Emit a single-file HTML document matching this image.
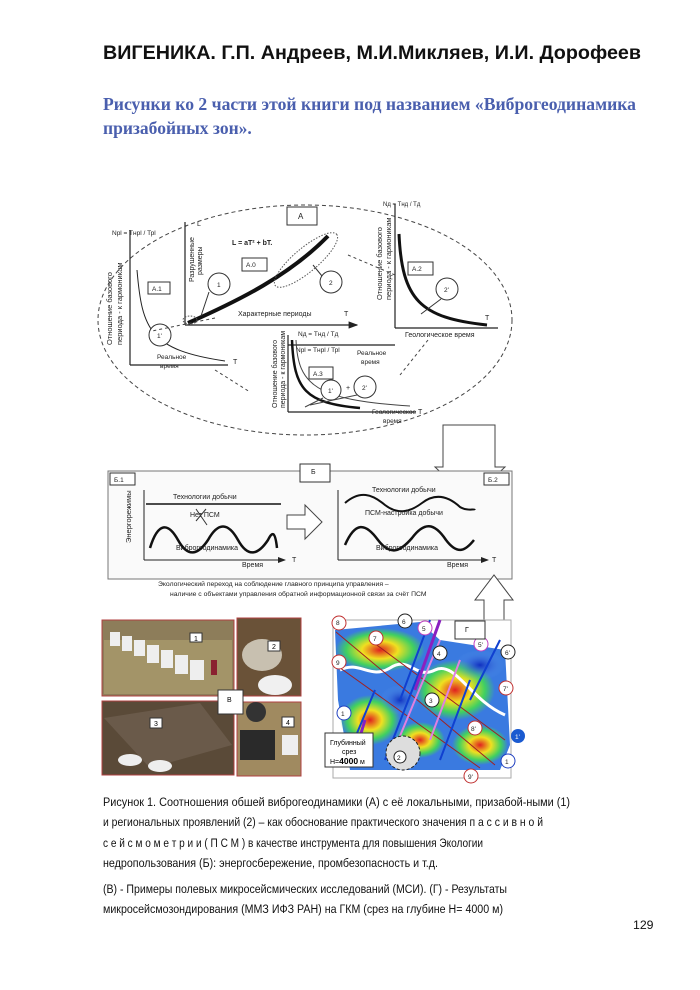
<!DOCTYPE html>
<html><head><meta charset="utf-8"><style>
html,body{margin:0;padding:0;background:#fff}
svg{display:block}
.s{font-family:"Liberation Sans","DejaVu Sans",sans-serif}
.c{font-family:"Liberation Sans","DejaVu Sans",sans-serif;font-size:12.3px;fill:#111}
</style></head><body>
<svg width="700" height="990" viewBox="0 0 700 990" xmlns="http://www.w3.org/2000/svg">
<defs>
<marker id="ar" markerWidth="8" markerHeight="8" refX="7" refY="4" orient="auto"><path d="M0,1 L8,4 L0,7 Z" fill="#222"/></marker>
<radialGradient id="hot" cx="50%" cy="50%" r="50%"><stop offset="0" stop-color="#e02020"/><stop offset=".4" stop-color="#f0e020"/><stop offset=".75" stop-color="#40d060"/><stop offset="1" stop-color="#40d060" stop-opacity="0"/></radialGradient>
<radialGradient id="cold" cx="50%" cy="50%" r="50%"><stop offset="0" stop-color="#1030c0"/><stop offset="1" stop-color="#60a0f0" stop-opacity="0"/></radialGradient>
</defs>
<text x="103" y="59" class="s" font-size="19.5" font-weight="bold" fill="#111" textLength="538" lengthAdjust="spacingAndGlyphs">ВИГЕНИКА. Г.П. Андреев, М.И.Микляев, И.И. Дорофеев</text>
<text x="103" y="110" font-family="'Liberation Serif',serif" font-size="17.5" font-weight="bold" fill="#4a5fae" textLength="533" lengthAdjust="spacingAndGlyphs">Рисунки ко 2 части этой книги под названием «Виброгеодинамика</text>
<text x="103" y="134" font-family="'Liberation Serif',serif" font-size="17.5" font-weight="bold" fill="#4a5fae">призабойных зон».</text>

<!-- Diagram A -->
<g class="s" fill="#222">
<ellipse cx="305" cy="320" rx="207" ry="115" fill="none" stroke="#444" stroke-dasharray="4,3"/>
<rect x="287" y="207" width="30" height="18" fill="#fff" stroke="#333"/><text x="298" y="219" font-size="8">А</text>
<path d="M130,365 V230 M130,365 H228" stroke="#222" fill="none" stroke-width="1.2"/>
<text x="112" y="235" font-size="6.5">Nрl = Tнрl / Трl</text>
<path d="M137,270 C142,330 150,350 225,361" stroke="#222" fill="none"/>
<rect x="148" y="282" width="22" height="12" fill="#fff" stroke="#333"/><text x="152" y="291" font-size="6.5">А.1</text>
<circle cx="160" cy="335" r="11" fill="#fff" stroke="#333"/><text x="157" y="338" font-size="6.5">1'</text>
<text x="157" y="359" font-size="6.5">Реальное</text><text x="160" y="368" font-size="6.5">время</text>
<text x="233" y="364" font-size="7">T</text>
<text transform="translate(112,345) rotate(-90)" font-size="7.5">Отношение базового</text>
<text transform="translate(122,345) rotate(-90)" font-size="7.5">периода - к гармоникам</text>
<path d="M185,325 V222 M185,325 H357" stroke="#222" fill="none" stroke-width="1.2" marker-end="url(#ar)"/>
<path d="M188,323 C240,300 290,275 328,236" stroke="#111" fill="none" stroke-width="4"/>
<text x="197" y="226" font-size="7">L</text>
<text x="232" y="245" font-size="7" font-weight="bold">L = aT² + bT.</text>
<rect x="242" y="258" width="25" height="13" fill="#fff" stroke="#333"/><text x="246" y="267" font-size="6.5">А.0</text>
<circle cx="219" cy="284" r="11" fill="#fff" stroke="#333"/><text x="217" y="287" font-size="6.5">1</text>
<circle cx="331" cy="282" r="11" fill="#fff" stroke="#333"/><text x="329" y="285" font-size="6.5">2</text>
<path d="M209,292 L201,316 M322,276 L313,265" stroke="#333"/>
<ellipse cx="190" cy="320" rx="7" ry="4" fill="none" stroke="#555" stroke-dasharray="1.5,1.5"/>
<ellipse cx="306" cy="260" rx="40" ry="12" transform="rotate(-40 306 260)" fill="none" stroke="#555" stroke-dasharray="1.5,1.5"/>
<text x="238" y="316" font-size="7">Характерные  периоды</text><text x="344" y="316" font-size="7">T</text>
<text transform="translate(194,282) rotate(-90)" font-size="7">Разрушенные</text>
<text transform="translate(202,275) rotate(-90)" font-size="7">размеры</text>
<path d="M395,328 V204 M395,328 H498" stroke="#222" fill="none" stroke-width="1.2"/>
<text x="383" y="206" font-size="6">Nд = Tнд / Tд</text>
<path d="M399,234 C402,300 420,318 487,325" stroke="#111" fill="none" stroke-width="3"/>
<rect x="408" y="262" width="25" height="13" fill="#fff" stroke="#333"/><text x="412" y="271" font-size="6.5">А.2</text>
<circle cx="447" cy="289" r="11" fill="#fff" stroke="#333"/><text x="444" y="292" font-size="6.5">2'</text>
<path d="M441,299 L421,314" stroke="#333"/>
<text x="485" y="320" font-size="7">T</text>
<text x="405" y="337" font-size="7">Геологическое время</text>
<text transform="translate(382,300) rotate(-90)" font-size="7.5">Отношение базового</text>
<text transform="translate(391,300) rotate(-90)" font-size="7.5">периода - к гармоникам</text>
<path d="M288,412 V335 M288,345 H395 M288,412 H416" stroke="#222" fill="none" stroke-width="1.2"/>
<text x="298" y="336" font-size="6.5">Nд = Tнд / Tд</text>
<text x="296" y="352" font-size="6.5">Nрl = Tнрl / Трl</text>
<text x="357" y="355" font-size="6.5">Реальное</text><text x="361" y="364" font-size="6.5">время</text>
<path d="M292,340 C294,390 305,403 360,408" stroke="#111" fill="none" stroke-width="2.5"/>
<path d="M296,340 C298,385 315,400 410,406" stroke="#444" fill="none" stroke-width="1"/>
<rect x="309" y="367" width="24" height="12" fill="#fff" stroke="#333"/><text x="313" y="376" font-size="6.5">А.3</text>
<circle cx="331" cy="390" r="10" fill="#fff" stroke="#333"/><text x="328" y="393" font-size="6.5">1'</text>
<circle cx="365" cy="387" r="11" fill="#fff" stroke="#333"/><text x="362" y="390" font-size="6.5">2'</text>
<text x="346" y="390" font-size="7">+</text>
<path d="M323,398 L305,407 M357,395 L310,405" stroke="#444"/>
<text x="372" y="414" font-size="6.5">Геологическое</text><text x="383" y="423" font-size="6.5">время</text>
<text x="418" y="414" font-size="7">T</text>
<text transform="translate(277,408) rotate(-90)" font-size="7">Отношение базового</text>
<text transform="translate(285,408) rotate(-90)" font-size="7">периода - к гармоникам</text>
<path d="M215,318 L152,331 M348,255 L395,275 M428,340 L400,375 M215,370 L250,392" stroke="#444" stroke-dasharray="3,3" fill="none"/>
</g>
<path d="M443,425 H495 V467 H505 L470,500 L435,467 H443 Z" fill="#fff" stroke="#444"/>

<g class="s" fill="#222">
<rect x="108" y="471" width="404" height="108" fill="#fafafa" stroke="#777"/>
<rect x="300" y="464" width="30" height="18" fill="#fff" stroke="#333"/><text x="311" y="474" font-size="7">Б</text>
<rect x="110" y="473" width="25" height="12" fill="#fff" stroke="#333"/><text x="114" y="482" font-size="6.5">Б.1</text>
<rect x="484" y="473" width="25" height="12" fill="#fff" stroke="#333"/><text x="488" y="482" font-size="6.5">Б.2</text>
<path d="M144,560 V490 M144,560 H285" stroke="#222" fill="none" marker-end="url(#ar)"/>
<path d="M338,560 V490 M338,560 H488" stroke="#222" fill="none" marker-end="url(#ar)"/>
<text x="173" y="499" font-size="7">Технологии добычи</text>
<path d="M146,504 H281" stroke="#111" stroke-width="1.5"/>
<text x="190" y="517" font-size="7">Нет ПСМ</text>
<path d="M196,521 L206,509 M196,509 L207,525" stroke="#333"/>
<path d="M150,548 C158,522 168,522 178,540 C188,558 198,555 208,540 C218,522 228,522 238,540 C248,558 258,555 268,540 C272,532 275,530 277,548" stroke="#111" fill="none" stroke-width="2.5"/>
<text x="176" y="550" font-size="7">Виброгеодинамика</text>
<text x="242" y="567" font-size="7">Время</text><text x="292" y="562" font-size="7">T</text>
<text transform="translate(131,543) rotate(-90)" font-size="7.5">Энергорежимы</text>
<path d="M287,515 H305 V505 L322,522 L305,539 V529 H287 Z" fill="#fff" stroke="#444"/>
<text x="372" y="492" font-size="7">Технологии добычи</text>
<path d="M345,503 C360,490 372,494 385,505 C398,515 410,512 422,503 C435,493 448,496 460,507 C468,512 474,508 475,510" stroke="#111" fill="none" stroke-width="2"/>
<text x="365" y="515" font-size="7">ПСМ-настройка добычи</text>
<path d="M345,545 C355,522 365,522 378,540 C390,556 400,552 412,538 C424,522 434,522 446,540 C458,556 466,550 474,540" stroke="#111" fill="none" stroke-width="2.5"/>
<text x="376" y="550" font-size="7">Виброгеодинамика</text>
<text x="447" y="567" font-size="7">Время</text><text x="492" y="562" font-size="7">T</text>
<text x="158" y="586" font-size="6.8">Экологический переход на соблюдение  главного  принципа  управления –</text>
<text x="170" y="596" font-size="6.8">наличие с объектами управления обратной информационной связи за счёт ПСМ</text>
</g>
<path d="M484,625 V600 H475 L494,575 L513,600 H504 V625" fill="#fff" stroke="#444"/>

<g class="s">
<rect x="102" y="620" width="132" height="76" fill="#8d7d5a" stroke="#b04040"/>
<rect x="104" y="640" width="128" height="54" fill="#a39468"/>
<g fill="#eee"><rect x="110" y="632" width="10" height="14"/><rect x="122" y="636" width="10" height="15"/><rect x="134" y="640" width="11" height="16"/><rect x="147" y="645" width="12" height="18"/><rect x="161" y="650" width="12" height="18"/><rect x="175" y="655" width="13" height="19"/><rect x="190" y="660" width="14" height="20"/></g>
<rect x="211" y="660" width="6" height="15" fill="#8a2030"/>
<rect x="190" y="633" width="12" height="9" fill="#fff" stroke="#333"/><text x="194" y="641" font-size="7">1</text>
<rect x="237" y="618" width="64" height="78" fill="#6a5238" stroke="#b04040"/>
<ellipse cx="262" cy="655" rx="20" ry="16" fill="#c8c0b0"/><ellipse cx="275" cy="685" rx="17" ry="10" fill="#f0f0f0"/>
<rect x="268" y="641" width="12" height="10" fill="#fff" stroke="#333"/><text x="272" y="649" font-size="7">2</text>
<rect x="102" y="701" width="132" height="74" fill="#5a4a38" stroke="#b04040"/>
<path d="M104,718 L200,703 L232,745 L150,768 Z" fill="#6a5a4a"/>
<ellipse cx="130" cy="760" rx="12" ry="6" fill="#eee"/><ellipse cx="160" cy="766" rx="12" ry="6" fill="#eee"/>
<rect x="150" y="718" width="12" height="10" fill="#fff" stroke="#333"/><text x="154" y="726" font-size="7">3</text>
<rect x="237" y="702" width="64" height="74" fill="#a08a60" stroke="#b04040"/>
<rect x="240" y="730" width="35" height="30" fill="#2a2a2a"/><ellipse cx="256" cy="712" rx="10" ry="10" fill="#333"/>
<rect x="282" y="735" width="16" height="20" fill="#eee"/>
<rect x="282" y="717" width="12" height="10" fill="#fff" stroke="#333"/><text x="286" y="725" font-size="7">4</text>
<rect x="218" y="690" width="25" height="24" fill="#fff" stroke="#333"/><text x="227" y="702" font-size="7">В</text>
</g>
<g class="s">
<rect x="333" y="620" width="178" height="158" fill="#fff" stroke="#aaa"/>
<path d="M335,630 L420,622 L440,640 L505,650 L510,745 L500,770 L350,770 L338,700 Z" fill="#3a7ae0"/>
<ellipse cx="380" cy="650" rx="45" ry="22" fill="url(#hot)"/>
<ellipse cx="455" cy="690" rx="40" ry="30" fill="url(#hot)"/>
<ellipse cx="370" cy="720" rx="30" ry="25" fill="url(#hot)"/>
<ellipse cx="480" cy="745" rx="28" ry="20" fill="url(#hot)"/>
<ellipse cx="420" cy="740" rx="25" ry="18" fill="url(#hot)"/>
<ellipse cx="480" cy="665" rx="25" ry="15" fill="url(#cold)"/>
<ellipse cx="400" cy="700" rx="20" ry="15" fill="url(#cold)"/>
<path d="M340,670 C360,660 370,680 390,668 C410,655 415,680 435,670 C455,660 470,700 505,715" stroke="#fff" fill="none" stroke-width="3"/>
<path d="M336,632 L495,765 M336,665 L480,768 M370,640 L505,740" stroke="#a02020" stroke-width="1"/>
<path d="M350,750 L375,690 M385,760 L420,670 M440,760 L470,680 M470,700 L500,640 M400,700 L430,620" stroke="#1040d0" stroke-width="2"/>
<path d="M390,760 L440,640 M430,740 L460,660" stroke="#e080e0" stroke-width="2"/>
<path d="M353,760 L365,720 M415,690 L440,620" stroke="#8a20c0" stroke-width="3"/>
<g fill="#fff" stroke="#c03030"><circle cx="339" cy="623" r="7"/><circle cx="339" cy="662" r="7"/><circle cx="376" cy="638" r="7"/><circle cx="475" cy="728" r="7"/><circle cx="506" cy="688" r="7"/><circle cx="471" cy="776" r="7"/></g>
<g fill="#fff" stroke="#222"><circle cx="405" cy="621" r="7"/><circle cx="508" cy="652" r="7"/><circle cx="432" cy="700" r="7"/><circle cx="440" cy="653" r="7"/></g>
<g fill="#fff" stroke="#2040c0"><circle cx="344" cy="713" r="7"/><circle cx="508" cy="761" r="7"/></g>
<circle cx="518" cy="736" r="7" fill="#1a5ad0"/>
<g fill="#fff" stroke="#c040c0"><circle cx="425" cy="628" r="7"/><circle cx="481" cy="644" r="7"/></g>
<g font-size="6.5" fill="#222"><text x="336" y="625">8</text><text x="336" y="665">9</text><text x="373" y="641">7</text><text x="402" y="624">6</text><text x="422" y="631">5</text><text x="437" y="656">4</text><text x="429" y="703">3</text><text x="478" y="647">5'</text><text x="505" y="655">6'</text><text x="503" y="691">7'</text><text x="471" y="731">8'</text><text x="468" y="779">9'</text><text x="341" y="716">1</text><text x="505" y="764">1</text><text x="515" y="739" fill="#fff">1'</text></g>
<circle cx="403" cy="753" r="17" fill="#ddd" stroke="#222" stroke-dasharray="3,2"/><circle cx="400" cy="757" r="6" fill="#fff" stroke="#222"/><text x="397" y="760" font-size="6.5">2</text>
<rect x="325" y="733" width="48" height="34" fill="#fff" stroke="#333"/>
<text x="330" y="745" font-size="7">Глубинный</text><text x="342" y="754" font-size="7">срез</text><text x="330" y="764" font-size="7">Н=<tspan font-weight="bold" font-size="8.5">4000</tspan> м</text>
<rect x="455" y="621" width="30" height="18" fill="#fff" stroke="#333"/><text x="465" y="632" font-size="7">Г</text>
</g>

<text x="103" y="806" class="c" textLength="467" lengthAdjust="spacingAndGlyphs">Рисунок  1.   Соотношения обшей виброгеодинамики (А) с её локальными, призабой-ными (1)</text>
<text x="103" y="826" class="c" textLength="440" lengthAdjust="spacingAndGlyphs">и региональных проявлений (2) – как обоснование практического значения п а с с и в н о й</text>
<text x="103" y="847" class="c" textLength="380" lengthAdjust="spacingAndGlyphs">с е й с м о м е т р и и   ( П С М )  в качестве инструмента для повышения Экологии</text>
<text x="103" y="867" class="c" textLength="335" lengthAdjust="spacingAndGlyphs">недропользования (Б): энергосбережение, промбезопасность и т.д.</text>
<text x="103" y="893" class="c" textLength="404" lengthAdjust="spacingAndGlyphs">(В) - Примеры полевых микросейсмических исследований (МСИ). (Г) - Результаты</text>
<text x="103" y="913" class="c" textLength="400" lengthAdjust="spacingAndGlyphs">микросейсмозондирования (ММЗ ИФЗ РАН) на ГКМ (срез на глубине Н= 4000  м)</text>
<text x="633" y="929" class="c">129</text>
</svg>
</body></html>
